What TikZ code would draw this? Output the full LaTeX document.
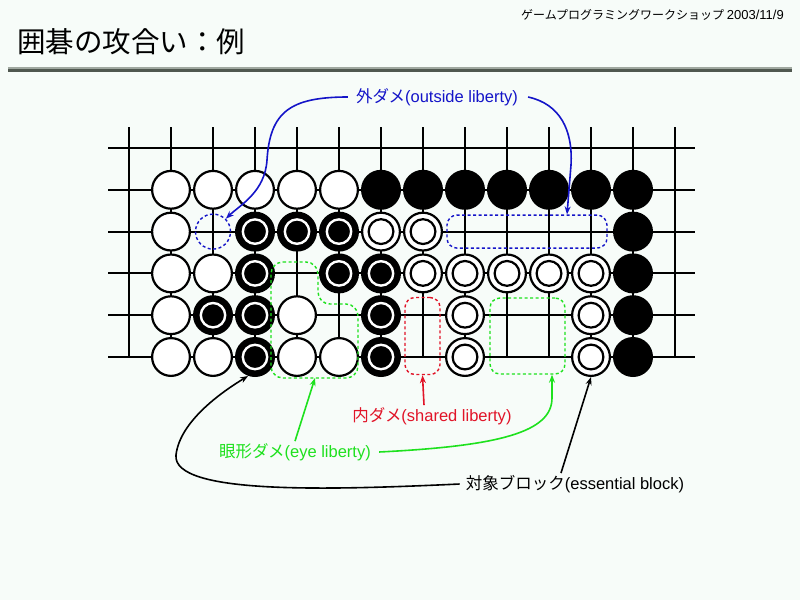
\documentclass[tikz,border=0pt]{standalone}
\usepackage{fontspec}
\setmainfont{Liberation Sans}
\newfontfamily\jp{Noto Sans CJK JP}
\usepackage{tikz}
\usetikzlibrary{arrows.meta, positioning}
\definecolor{bgcol}{RGB}{247, 252, 249}
\definecolor{libblue}{RGB}{20, 20, 200}
\definecolor{libred}{RGB}{225, 20, 40}
\definecolor{libgreen}{RGB}{30, 225, 30}
\definecolor{rulelight}{RGB}{160, 168, 160}
\definecolor{ruledark}{RGB}{80, 88, 80}
\tikzset{
  wstone/.style={
    circle, draw=black, line width=2.2pt, fill=white,
    minimum size=37.8pt, inner sep=0pt
  },
  bstone/.style={
    circle, fill=black, minimum size=40pt, inner sep=0pt
  },
  bmark/.style={
    bstone,
    path picture={\draw[white, line width=2.4pt]
      (path picture bounding box.center) circle (12.2pt);}
  },
  wmark/.style={
    wstone,
    path picture={\draw[black, line width=2.2pt]
      (path picture bounding box.center) circle (12.4pt);}
  },
  libbox/.style={
    rectangle, rounded corners=10pt, line width=1.4pt,
    dash pattern=on 3pt off 2.5pt, inner sep=0pt
  },
  libtext/.style={font=\fontsize{16.5}{19}\selectfont, inner sep=2pt},
  gridline/.style={line width=2pt, black},
  arr/.style={-{Stealth[length=8pt, width=6pt]}, line width=1.6pt},
}

\begin{document}
\begin{tikzpicture}[x=1pt, y=-1pt]

  % Background and header
  \fill[bgcol] (0,0) rectangle (800,600);
  \useasboundingbox (0,0) rectangle (800,600);
  \node[anchor=east, inner sep=0pt] (hdr) at (784,15)
    {{\jp\fontsize{12}{13}\selectfont ゲームプログラミングワークショップ}\
     \fontsize{13}{15}\selectfont 2003/11/9};
  \node[anchor=west, inner sep=0pt] (title) at (17,42)
    {\jp\fontsize{28.5}{32}\selectfont 囲碁の攻合い：例};
  \fill[rulelight] (8,66.8) rectangle (792,69.2);
  \fill[ruledark]  (8,69.2) rectangle (792,71.8);

  % Board
  \foreach \c in {0,...,13}
    \draw[gridline] ({129+42*\c},127) -- ({129+42*\c},357);
  \foreach \r in {0,...,5}
    \draw[gridline] (108,{148+41.8*\r}) -- (695,{148+41.8*\r});

  % Stones
  \foreach \c/\r in {1/1,2/1,3/1,4/1,5/1,1/2,1/3,2/3,1/4,4/4,1/5,2/5,4/5,5/5}
    \node[wstone] (s\c-\r) at ({129+42*\c},{148+41.8*\r}) {};
  \foreach \c/\r in {6/1,7/1,8/1,9/1,10/1,11/1,12/1,12/2,12/3,12/4,12/5}
    \node[bstone] (s\c-\r) at ({129+42*\c},{148+41.8*\r}) {};
  \foreach \c/\r in {3/2,4/2,5/2,3/3,5/3,6/3,2/4,3/4,6/4,3/5,6/5}
    \node[bmark] (s\c-\r) at ({129+42*\c},{148+41.8*\r}) {};
  \foreach \c/\r in {6/2,7/2,7/3,8/3,9/3,10/3,11/3,8/4,11/4,8/5,11/5}
    \node[wmark] (s\c-\r) at ({129+42*\c},{148+41.8*\r}) {};

  % Liberties
  \node[libbox, circle, draw=libblue, minimum size=35pt] (outA) at (213,231.6) {};
  \node[libbox, draw=libblue, minimum width=160pt, minimum height=33pt] (outB) at (527,231.6) {};
  \node[libbox, draw=libred, minimum width=35pt, minimum height=77pt] (inA) at (422.5,336) {};
  \node[libbox, draw=libgreen, minimum width=75pt, minimum height=76pt] (eyeB) at (527.5,336) {};
  \draw[libbox, draw=libgreen, rounded corners=12pt]
    (271,262) -- (318,262) -- (318,304) -- (358,304) -- (358,378) -- (271,378) -- cycle;
  \coordinate (eyeA) at (315,378);

  % Labels
  \node[libtext, text=libblue] (outlbl) at (437,97) {{\jp 外ダメ}(outside liberty)};
  \node[libtext, text=libred] (sharedlbl) at (432,416) {{\jp 内ダメ}(shared liberty)};
  \node[libtext, text=libgreen] (eyelbl) at (295,452) {{\jp 眼形ダメ}(eye liberty)};
  \node[libtext, text=black] (blocklbl) at (575,484) {{\jp 対象ブロック}(essential block)};

  % Arrows
  \draw[arr, libblue] ([xshift=-6pt]outlbl.west) .. controls (290,97) and (270,112) .. (267,160)
    .. controls (265,192) and (240,205) .. (outA.north east);
  \draw[arr, libblue] ([xshift=8pt]outlbl.east) .. controls (560,104) and (573,130) .. (571,165)
    -- ([xshift=40pt]outB.north);
  \draw[arr, libred] ([xshift=-8pt]sharedlbl.north) -- (inA.south);
  \draw[arr, libgreen] (eyelbl.north) -- (eyeA);
  \draw[arr, libgreen] ([xshift=6pt]eyelbl.east) .. controls (500,446) and (552,432) .. (552,398)
    -- ([xshift=24.5pt]eyeB.south);
  \draw[arr, black] ([xshift=-4pt]blocklbl.west) .. controls (330,490) and (172,495) .. (176,455)
    .. controls (180,420) and (225,390) .. (s3-5.250);
  \draw[arr, black] ([xshift=-14pt]blocklbl.north) -- (s11-5.south);

\end{tikzpicture}
\end{document}
